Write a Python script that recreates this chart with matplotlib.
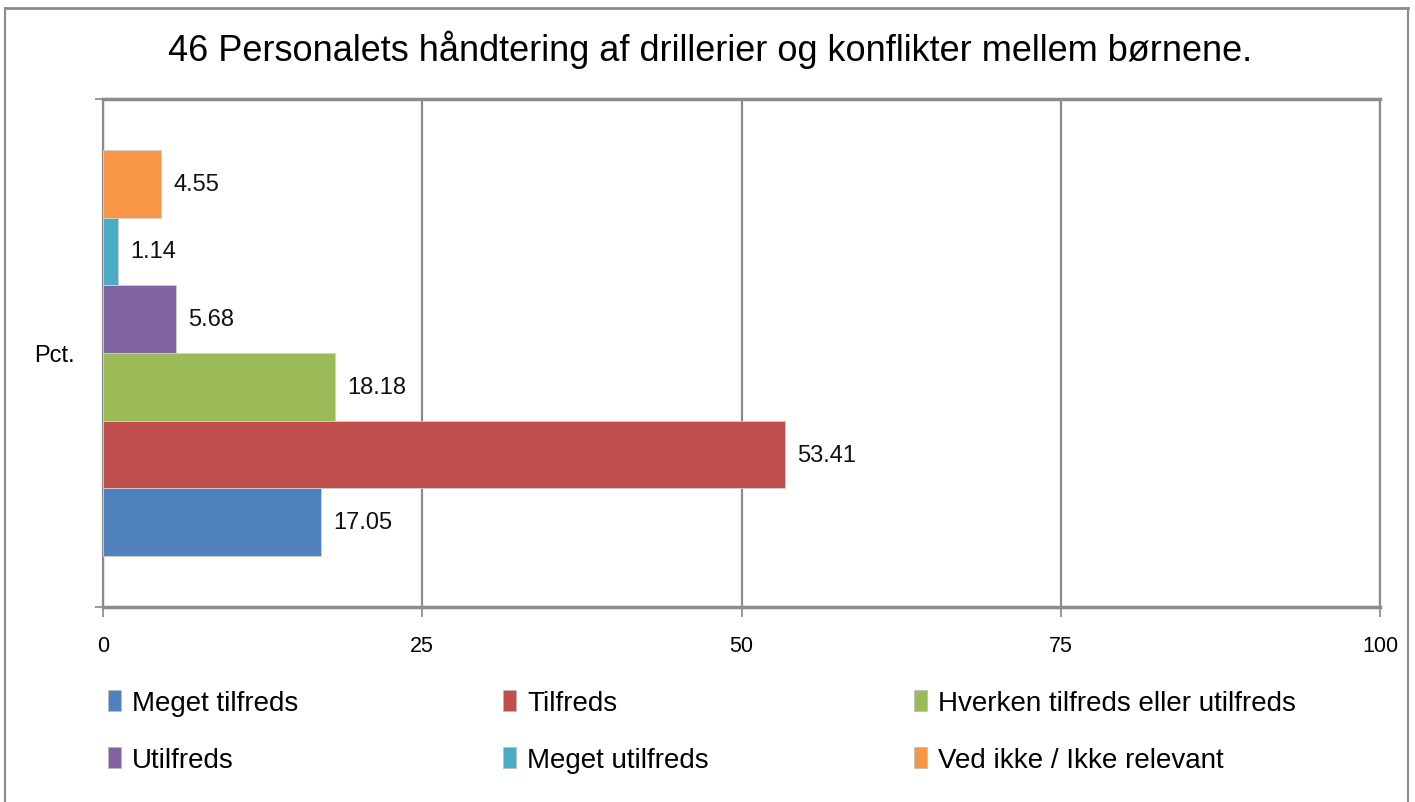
import matplotlib
matplotlib.use("Agg")
import matplotlib.pyplot as plt
from matplotlib.patches import Patch
from matplotlib.lines import Line2D
import numpy as np

plt.rcParams['font.family'] = ['Liberation Sans', 'DejaVu Sans']

title = "46 Personalets håndtering af drillerier og konflikter mellem børnene."
category = "Pct."
series = ["Meget tilfreds", "Tilfreds", "Hverken tilfreds eller utilfreds",
          "Utilfreds", "Meget utilfreds", "Ved ikke / Ikke relevant"]
values = [17.05, 53.41, 18.18, 5.68, 1.14, 4.55]
colors = ["#4F81BD", "#C0504D", "#9BBB59", "#8064A2", "#4BACC6", "#F79646"]
xticks = [0, 25, 50, 75, 100]

fig = plt.figure(figsize=(14.15, 8.03), dpi=100)
ax = fig.add_axes([103/1415, 1-608/803, (1380-103)/1415, (608-100)/803])

n = len(series)
group_w = 0.8
bh = group_w / n
for i, (s, v, c) in enumerate(zip(series, values, colors)):
    y = -group_w/2 + bh/2 + i*bh
    ax.barh(y, v, height=bh, color=c, edgecolor="#d0d0d0", linewidth=0.6, zorder=3)
    ax.annotate(f"{v:.2f}", (v, y), xytext=(9, 0), textcoords="offset points",
                va="center", ha="left", fontsize=17, color="#111111")

ax.set_xlim(0, 100)
ax.set_ylim(-0.5, 0.5)
ax.set_xticks(xticks)
ax.set_xticklabels([str(t) for t in xticks], fontsize=15.5)
ax.tick_params(axis='x', length=7, width=1.2, color="#888888", pad=13)
ax.set_yticks([0])
ax.set_yticklabels([category], fontsize=17)
ax.tick_params(axis='y', which='major', length=0, pad=20)
ax.set_yticks([-0.5, 0.5], minor=True)
ax.tick_params(axis='y', which='minor', length=6, width=1.2, color="#888888")

ax.grid(axis='x', color="#8c8c8c", linewidth=1.6, zorder=0)
for side in ['top', 'bottom']:
    ax.spines[side].set_color("#8c8c8c")
    ax.spines[side].set_linewidth(2.5)
ax.spines['left'].set_color("#8c8c8c")
ax.spines['left'].set_linewidth(1.6)
ax.spines['right'].set_color("#8c8c8c")
ax.spines['right'].set_linewidth(1.6)

fig.text(710/1415, 1-50/803, title, ha="center", va="center", fontsize=26)

handles = [Patch(facecolor=c, edgecolor="#bbbbbb", linewidth=0.5) for c in colors]
order = [0, 3, 1, 4, 2, 5]
leg = fig.legend([handles[i] for i in order], [series[i] for i in order],
                 ncol=3, loc="upper left", bbox_to_anchor=(108/1415, 1-691/803),
                 frameon=False, fontsize=20, handlelength=0.45, handleheight=0.8,
                 handletextpad=0.4, columnspacing=7.4, labelspacing=1.1,
                 borderaxespad=0, borderpad=0)

# outer chart border
fig.add_artist(Line2D([5/1415, 5/1415], [0, 1-9/803], transform=fig.transFigure, color="#8c8c8c", linewidth=1.5))
fig.add_artist(Line2D([5/1415, 1408/1415], [1-9/803, 1-9/803], transform=fig.transFigure, color="#8c8c8c", linewidth=2))
fig.add_artist(Line2D([1408/1415, 1408/1415], [0, 1-9/803], transform=fig.transFigure, color="#8c8c8c", linewidth=1.5))

fig.savefig("out.png", dpi=100)
